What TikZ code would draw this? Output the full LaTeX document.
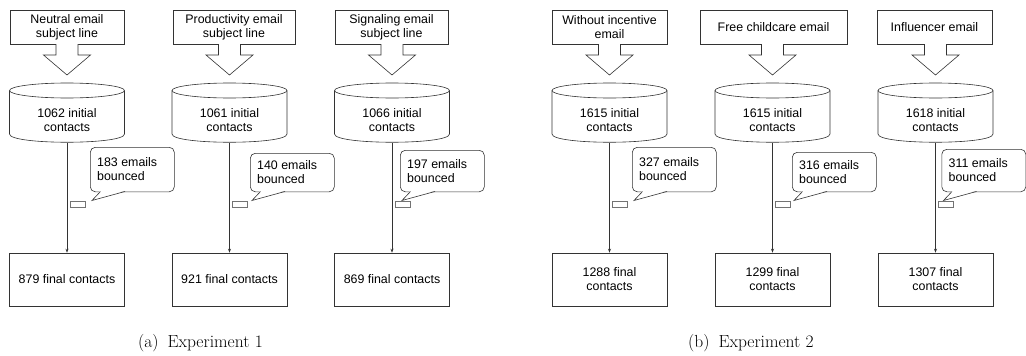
\documentclass[tikz,border=0pt]{standalone}
\usepackage{fontspec}
\newfontfamily\arial{Liberation Sans}
\usetikzlibrary{arrows.meta,calc}
\tikzset{
  ln/.style={draw=black!80, line width=0.6pt},
  box/.style={ln, fill=white, inner sep=0pt, align=center, font=\arial\fontsize{12.4}{14}\selectfont},
  txt/.style={inner sep=0pt, align=center, font=\arial\fontsize{12.4}{14}\selectfont},
  bubble/.style={ln, fill=white, rounded corners=5pt, inner sep=0pt},
  smallrect/.style={draw=black!55, line width=0.6pt, inner sep=0pt, minimum width=15pt, minimum height=6pt},
  flow/.style={ln, -{Stealth[length=4pt,width=3pt]}},
  captext/.style={inner sep=0pt, anchor=base west, font=\fontsize{17.5}{20}\selectfont}
}
% #1 id, #2 line x, #3 box left, #4 box right, #5 top text, #6 cylinder text,
% #7 callout left, #8 callout top, #9 callout text
\newcommand\flowcol[9]{%
  \node[box, minimum width={(#4-#3)*1pt}, minimum height=34pt] (#1top) at ({(#3+#4)/2},27) {#5};
  % block arrow
  \draw[ln, fill=white] ({#2-11},44) -- ({#2-11},55) -- ({#2-23.5},55) -- (#2,75)
     -- ({#2+23.5},55) -- ({#2+11},55) -- ({#2+11},44);
  % cylinder
  \node[minimum width=115pt, minimum height=60pt, inner sep=0pt] (#1cyl) at (#2,113) {};
  \draw[ln, fill=white] ({#2-57.5},90.5) -- ({#2-57.5},134)
     .. controls ({#2-57.5},145) and ({#2+57.5},145) .. ({#2+57.5},134) -- ({#2+57.5},90.5);
  \draw[ln, fill=white] (#2,90.5) ellipse [x radius=57.5, y radius=7.5];
  \node[txt] (#1cyltxt) at (#2,120) {#6};
  % callout
  \node[bubble, minimum width=84pt, minimum height={(191.5-#8)*1pt}, anchor=north west] (#1bnc) at (#7,#8) {};
  \fill[white] ({#7+10.5},190.6) -- ({#7+2},200.5) -- ({#7+35},190.6) -- cycle;
  \draw[ln, line join=miter] ({#7+10.5},191.5) -- ({#7+2},200.5) -- ({#7+35},191.5);
  \node[txt, anchor=west, align=left] (#1bnctxt) at ({#7+7},{(#8+191.5)/2}) {#9};
  \node[smallrect] (#1sr) at ({#2+10.5},204) {};
}
\newcommand\finbox[3]{%
  \node[box, minimum width=115pt, minimum height=53pt] (#1fin) at (#2,279.5) {#3};
  \draw[flow] (#1cyl.south) -- (#1fin.north);
}
\begin{document}
\begin{tikzpicture}[x=1pt, y=-1pt]
\useasboundingbox (0,0) rectangle (1026,356);
% Experiment 1
\flowcol{a}{67}{10}{124}{Neutral email\\subject line}{1062 initial\\contacts}{90}{147}{183 emails\\bounced}
\finbox{a}{67}{879 final contacts}
\flowcol{b}{229.5}{173}{295}{Productivity email\\subject line}{1061 initial\\contacts}{250}{153}{140 emails\\bounced}
\finbox{b}{229.5}{921 final contacts}
\flowcol{c}{392}{335}{448}{Signaling email\\subject line}{1066 initial\\contacts}{400}{150}{197 emails\\bounced}
\finbox{c}{392}{869 final contacts}
% Experiment 2
\flowcol{d}{609.5}{552}{667}{Without incentive\\email}{1615 initial\\contacts}{632}{147}{327 emails\\bounced}
\finbox{d}{609.5}{1288 final\\contacts}
\flowcol{e}{772.5}{700}{847}{Free childcare email}{1615 initial\\contacts}{792}{152}{316 emails\\bounced}
\finbox{e}{772.5}{1299 final\\contacts}
\flowcol{f}{935.5}{877}{992}{Influencer email}{1618 initial\\contacts}{941.5}{149}{311 emails\\bounced}
\finbox{f}{935.5}{1307 final\\contacts}
% captions
\node[captext] (capa) at (138,347) {(a)\hspace{9pt}Experiment 1};
\node[captext] (capb) at (688,347) {(b)\hspace{9pt}Experiment 2};
\end{tikzpicture}
\end{document}
